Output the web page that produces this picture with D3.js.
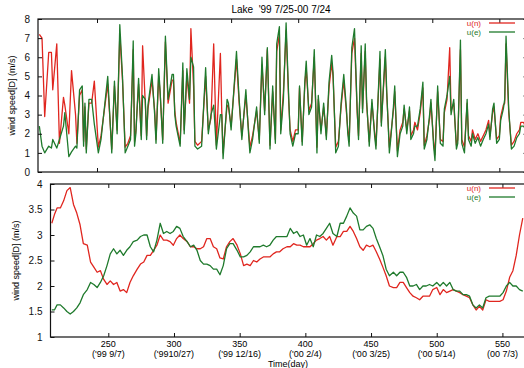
<!DOCTYPE html>
<html>
<head>
<meta charset="utf-8">
<script src="https://cdn.jsdelivr.net/npm/d3@7"></script>
<style>
  body { margin: 0; background: #fff; }
  svg { display: block; font-family: "Liberation Sans", Arial, sans-serif; }
  .tick text { font-size: 10px; fill: #111; }
  .axis path.domain { display: none; }
  .axis line { stroke: #111; }
</style>
</head>
<body>
<svg id="chart"></svg>
<script>
// daily wind speed (top panel)
const topDays = [207,209,211,214,216,217,220,222,225,226,229,231,234,235,237,239,240,241,242,244,
  246,248,251,253,258,261,263,265,267,269,271,273,275,277,278,279,281,283,284,286,
  287,288,291,293,294,296,297,299,301,303,306,307,308,309,312,314,315,317,319,320,
  322,323,325,328,331,333,335,337,339,342,343,344,347,348,350,354,356,358,361,363,
  364,366,369,371,373,375,377,379,381,383,384,386,387,389,391,393,394,396,398,400,
  401,403,405,406,408,410,412,414,415,417,419,421,423,425,426,428,430,432,434,436,
  437,438,440,442,444,445,447,448,450,451,453,455,457,458,461,462,465,466,468,469,
  471,472,474,476,478,479,481,483,484,486,487,489,491,493,494,496,498,499,501,502,
  504,506,508,509,511,513,514,516,518,519,521,522,524,526,527,529,530,532,534,536,
  538,540,542,543,545,546,548,550,551,553,554,555,557,559,561,563,565,566,568,570];
const topUn = [7.2,7.0,2.9,6.25,6.25,4.3,6.7,1.5,3.9,3.5,2.0,5.3,3.0,1.5,4.0,4.3,1.6,3.4,1.2,3.6,
  3.6,4.75,1.3,1.9,4.6,1.2,4.5,2.2,7.2,4.8,1.3,1.5,1.9,6.4,1.6,2.2,4.6,1.9,6.6,3.6,
  1.9,3.3,4.8,3.2,1.7,5.0,4.2,1.7,6.8,3.6,4.8,4.8,3.2,2.6,1.5,5.3,2.2,5.0,3.6,7.5,
  4.5,1.6,1.4,1.6,5.0,2.2,2.8,6.7,1.4,6.2,3.2,1.0,3.5,3.4,2.4,5.9,3.6,1.9,4.0,2.2,
  1.3,1.9,3.2,1.7,5.6,3.2,6.4,1.4,4.2,1.7,6.3,7.2,2.2,4.2,7.4,3.6,2.2,1.6,2.2,2.2,
  4.4,1.6,4.6,5.4,3.2,3.6,6.0,1.3,3.8,2.2,3.4,1.9,4.4,5.7,5.0,1.3,1.6,3.4,4.8,3.1,
  2.2,1.6,6.2,7.0,3.1,1.9,6.2,3.3,6.3,3.6,1.6,3.6,2.1,1.4,5.9,2.6,6.0,4.1,1.3,1.9,
  3.2,4.2,1.1,2.2,2.6,3.3,2.2,3.2,1.9,2.2,2.6,2.2,3.1,4.4,1.4,1.9,2.8,3.6,1.6,0.9,
  4.2,1.7,1.6,3.1,3.8,6.5,3.2,3.6,1.4,1.7,6.4,1.7,1.3,3.6,1.9,1.6,2.2,1.7,2.0,1.6,
  1.9,2.2,2.7,1.9,3.1,3.4,1.7,1.9,2.9,3.5,3.6,6.7,3.1,1.4,1.6,2.0,2.2,2.6,2.6,2.3];
const topUe = [2.4,1.35,1.0,1.35,1.25,1.7,1.25,1.7,2.4,3.1,0.8,1.05,1.35,1.25,4.3,4.5,1.35,3.6,1.0,3.8,
  3.8,2.5,1.0,1.7,5.0,1.0,4.75,2.0,7.7,5.0,1.0,1.35,1.7,6.85,1.35,2.0,4.9,1.7,4.0,3.8,
  1.7,3.5,5.1,3.0,1.5,5.4,4.3,1.5,7.1,3.8,5.1,5.1,3.0,2.4,1.35,5.7,2.0,5.4,3.8,6.0,
  5.5,1.35,1.2,1.35,5.45,2.0,3.0,3.5,1.2,3.0,3.0,0.7,3.8,3.6,2.2,6.3,3.8,1.7,4.3,2.0,
  1.0,1.7,3.4,1.5,6.0,3.0,6.5,1.2,4.5,1.5,6.7,7.6,2.0,3.8,7.8,3.8,2.0,1.35,2.0,2.0,
  4.5,1.4,4.8,5.8,3.0,3.4,6.4,1.0,4.0,2.0,3.6,1.7,4.7,6.1,5.2,1.0,1.35,3.6,5.1,3.3,
  2.0,1.35,6.5,7.5,3.3,1.7,6.6,3.1,6.7,3.8,1.35,3.8,1.9,1.2,6.3,2.4,6.4,4.3,1.0,1.7,
  3.4,4.5,0.8,2.0,2.4,3.5,2.0,3.4,1.7,2.0,2.4,2.4,3.3,4.7,1.2,1.7,3.0,3.8,1.35,0.6,
  4.5,1.5,1.35,3.3,4.0,5.0,3.0,3.8,1.2,1.5,6.9,1.5,1.0,3.8,1.7,1.35,2.0,1.5,1.8,1.35,
  1.7,2.0,2.5,1.7,3.3,3.6,1.5,1.7,2.7,3.3,3.8,7.1,3.3,1.2,1.35,1.8,2.0,2.4,2.4,2.2];

// running mean (bottom panel)
const botDays = [207,209,211,213.5,216,218.5,221,223.5,226,228.5,231,234,236.5,239,241.5,244,246.5,249,251.5,254,
  256.5,259,261.5,264,266.5,269,272,274.5,277,279.5,282,284.5,287,289.5,292,294.5,297,299.5,302,304.5,
  307,310,312.5,315,317.5,
  320,322.5,325,327.5,330,332.5,335,337.5,340,342.5,345,348,350.5,353,355.5,358,360.5,363,365.5,368,
  370.5,373,375.5,378,380.5,383,386,388.5,391,393.5,396,398.5,401,403.5,406,408.5,411,413.5,416,418.5,
  421,424,426.5,429,431.5,434,436.5,439,
  441.5,444,446.5,449,451.5,454,456.5,459,461.5,464,467,469.5,472,474.5,477,479.5,482,484.5,487,489.5,
  492,494.5,497,500,502.5,505,507.5,510,512.5,515,517.5,520,522.5,525,527.5,530,532.5,535,537.5,540,
  542.5,545.5,548,550.5,553,555.5,558,560.5,563,565.5];
const botUn = [3.23,3.4,3.53,3.53,3.67,3.87,3.93,3.6,3.43,3.2,2.83,2.8,2.47,2.37,2.27,2.3,2.13,2.03,2.1,2.03,
  2.07,1.9,1.93,1.87,2.07,2.2,2.33,2.43,2.47,2.6,2.6,2.7,2.8,3.0,2.9,2.9,2.87,2.8,2.93,3.0,
  2.93,2.87,2.77,2.77,2.73,
  2.73,2.77,2.93,2.93,2.77,2.73,2.55,2.53,2.77,2.87,2.93,2.8,2.63,2.4,2.43,2.4,2.5,2.47,2.53,2.57,
  2.57,2.57,2.63,2.67,2.67,2.73,2.77,2.77,2.83,2.8,2.8,2.77,2.77,2.77,2.83,2.9,2.93,2.97,2.9,2.97,
  2.8,2.97,2.97,3.07,3.07,3.17,3.07,2.93,
  2.77,2.7,2.8,2.77,2.8,2.67,2.53,2.37,2.2,2.0,1.97,1.97,2.07,2.07,1.97,1.87,1.8,1.77,1.73,1.8,
  1.8,1.8,1.93,1.97,1.83,1.93,1.87,1.9,1.93,1.9,1.87,1.83,1.8,1.77,1.63,1.53,1.6,1.53,1.73,1.7,
  1.7,1.7,1.7,1.73,1.9,2.17,2.3,2.6,3.0,3.33];
const botUe = [1.53,1.53,1.63,1.63,1.57,1.5,1.45,1.5,1.57,1.67,1.83,1.93,2.07,2.03,1.97,2.07,2.2,2.4,2.63,2.73,
  2.63,2.7,2.6,2.7,2.77,2.87,2.9,2.97,3.0,3.0,2.77,2.67,2.9,3.23,3.03,3.07,3.03,3.07,3.17,3.13,
  2.97,2.87,2.77,2.8,2.7,
  2.5,2.43,2.43,2.4,2.33,2.33,2.22,2.4,2.73,2.83,2.83,2.7,2.57,2.57,2.6,2.67,2.77,2.77,2.77,2.8,
  2.77,2.8,2.9,2.97,2.97,2.97,2.97,3.13,3.03,3.07,2.97,3.0,2.8,2.93,2.77,3.0,2.97,3.03,3.13,3.23,
  3.03,2.97,3.23,3.23,3.37,3.53,3.43,3.37,
  3.1,3.1,3.17,3.2,3.13,2.93,2.77,2.6,2.33,2.2,2.27,2.2,2.27,2.27,2.17,2.0,2.0,2.03,1.93,2.0,
  2.0,2.03,2.0,2.07,2.0,2.07,2.0,2.07,1.93,1.9,1.9,1.83,1.83,1.8,1.63,1.57,1.63,1.57,1.77,1.8,
  1.8,1.8,1.8,1.87,2.0,2.07,2.0,2.0,1.93,1.9];

const xTickValues = [250, 300, 350, 400, 450, 500, 550];
const xDateLabels = ["('99 9/7)", "('9910/27)", "('99 12/16)", "('00 2/4)", "('00 3/25)", "('00 5/14)", "(00 7/3)"];
const seriesNames = ['u(n)', 'u(e)'];
const seriesColors = ['#e0261f', '#1f7a2c'];

const W = 524, H = 368;
const svg = d3.select('#chart').attr('width', W).attr('height', H);

svg.append('text')
  .attr('x', 281).attr('y', 13)
  .attr('text-anchor', 'middle')
  .style('font-size', '10px')
  .style('white-space', 'pre')
  .text("Lake  '99 7/25-00 7/24");

function panel(cfg, days, un, ue) {
  const x = d3.scaleLinear().domain([206, 571]).range([cfg.left, cfg.right]);
  const y = d3.scaleLinear().domain(cfg.yDomain).range([cfg.bottom, cfg.top]);
  const g = svg.append('g');
  const clipId = 'clip' + cfg.id;
  svg.append('clipPath').attr('id', clipId)
    .append('rect')
    .attr('x', cfg.left).attr('y', cfg.top)
    .attr('width', cfg.right - cfg.left).attr('height', cfg.bottom - cfg.top);

  const line = d3.line().x((d, i) => x(days[i])).y(d => y(d));
  [un, ue].forEach((vals, k) => {
    g.append('path')
      .datum(vals)
      .attr('clip-path', `url(#${clipId})`)
      .attr('fill', 'none')
      .attr('stroke', seriesColors[k])
      .attr('stroke-width', 1.3)
      .attr('stroke-linejoin', 'round')
      .attr('d', line);
  });

  g.append('g').attr('class', 'axis')
    .attr('transform', `translate(${cfg.left},0)`)
    .call(d3.axisLeft(y).tickValues(cfg.yTicks).tickSize(-4).tickPadding(cfg.pad).tickFormat(d3.format('')));
  g.append('g').attr('class', 'axis')
    .attr('transform', `translate(${cfg.right},0)`)
    .call(d3.axisRight(y).tickValues(cfg.yTicks).tickSize(-4).tickFormat(''));
  g.append('g').attr('class', 'axis')
    .attr('transform', `translate(0,${cfg.top})`)
    .call(d3.axisTop(x).tickValues(xTickValues).tickSize(-4).tickFormat(''));
  g.append('g').attr('class', 'axis')
    .attr('transform', `translate(0,${cfg.bottom})`)
    .call(d3.axisBottom(x).tickValues(xTickValues).tickSize(-4).tickFormat(''));

  g.append('rect')
    .attr('x', cfg.left).attr('y', cfg.top)
    .attr('width', cfg.right - cfg.left).attr('height', cfg.bottom - cfg.top)
    .attr('fill', 'none').attr('stroke', '#111').attr('stroke-width', 1.2);

  g.append('text')
    .attr('transform', `translate(${cfg.ylabelX},${(cfg.top + cfg.bottom) / 2}) rotate(-90)`)
    .attr('text-anchor', 'middle')
    .style('font-size', '9px')
    .text('wind speed[D] (m/s)');

  // legend
  seriesNames.forEach((name, k) => {
    const ly = cfg.top + 4 + k * 9;
    g.append('text')
      .attr('x', 481).attr('y', ly + 3)
      .attr('text-anchor', 'end')
      .style('font-size', '8px')
      .attr('fill', seriesColors[k])
      .text(name);
    g.append('line')
      .attr('x1', 489).attr('x2', 515)
      .attr('y1', ly).attr('y2', ly)
      .attr('stroke', seriesColors[k]).attr('stroke-width', 1.3);
  });

  return { x, y, g };
}

panel({ id: 'top', left: 38, right: 527.5, top: 19, bottom: 172, yDomain: [0, 8],
        yTicks: [0, 1, 2, 3, 4, 5, 6, 7, 8], pad: 8, ylabelX: 15 },
      topDays, topUn, topUe);

const bot = panel({ id: 'bot', left: 50.5, right: 530, top: 184, bottom: 337, yDomain: [1, 4],
        yTicks: [1, 1.5, 2, 2.5, 3, 3.5, 4], pad: 8, ylabelX: 19 },
      botDays, botUn, botUe);

xTickValues.forEach((v, i) => {
  const t = svg.append('text')
    .attr('x', bot.x(v)).attr('text-anchor', 'middle')
    .style('font-size', '9px');
  t.append('tspan').attr('x', bot.x(v)).attr('y', 347).text(v);
  t.append('tspan').attr('x', bot.x(v)).attr('y', 356.5).text(xDateLabels[i]);
});

svg.append('text')
  .attr('x', 288).attr('y', 367)
  .attr('text-anchor', 'middle')
  .style('font-size', '9px')
  .text('Time(day)');
</script>
</body>
</html>
